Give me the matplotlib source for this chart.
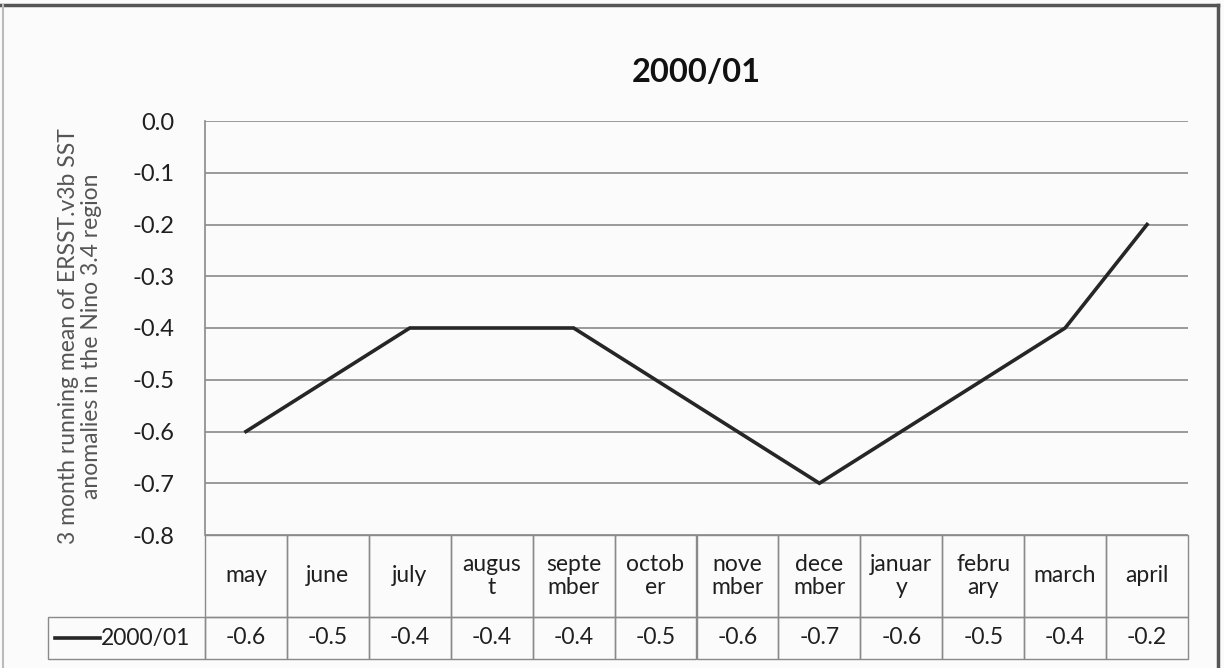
import matplotlib
matplotlib.use("Agg")
import matplotlib.pyplot as plt
from matplotlib.ticker import FixedLocator, FormatStrFormatter
from matplotlib.patches import Rectangle
from matplotlib.lines import Line2D
from matplotlib.transforms import blended_transform_factory

# ---- data ----
categories = ["may", "june", "july", "august", "september", "october",
              "november", "december", "january", "february", "march", "april"]
cell_labels = ["may", "june", "july", "augus\nt", "septe\nmber", "octob\ner",
               "nove\nmber", "dece\nmber", "januar\ny", "febru\nary", "march", "april"]
series_name = "2000/01"
values = [-0.6, -0.5, -0.4, -0.4, -0.4, -0.5, -0.6, -0.7, -0.6, -0.5, -0.4, -0.2]
yticks = [0.0, -0.1, -0.2, -0.3, -0.4, -0.5, -0.6, -0.7, -0.8]
title = "2000/01"
ylabel = "3 month running mean of ERSST.v3b SST\nanomalies in the Nino 3.4 region"

plt.rcParams['font.family'] = ['Lato', 'DejaVu Sans']

W, H = 1224, 668
fig = plt.figure(figsize=(W / 100, H / 100), dpi=100)
fig.patch.set_facecolor('#fbfbfb')

ax_l, ax_r, ax_t, ax_b = 205, 1188, 121, 535
ax = fig.add_axes([ax_l / W, 1 - ax_b / H, (ax_r - ax_l) / W, (ax_b - ax_t) / H])
ax.set_facecolor('none')

LINE_C = '#262626'
GRID_C = '#8a8a8a'
TXT_C = '#1f1f1f'

x = list(range(len(categories)))
ax.plot(x, values, color=LINE_C, lw=2.6, solid_joinstyle='miter', zorder=3)
ax.set_xlim(-0.5, len(categories) - 0.5)
ax.set_ylim(-0.8, 0.0)

ax.yaxis.set_major_locator(FixedLocator(yticks))
ax.yaxis.set_major_formatter(FormatStrFormatter('%.1f'))
ax.grid(axis='y', color=GRID_C, lw=1.2)
ax.set_axisbelow(True)
ax.tick_params(axis='y', length=0, pad=22, labelsize=17, labelcolor=TXT_C)
ax.tick_params(axis='x', length=0, labelbottom=False)
for s in ['top', 'right', 'bottom']:
    ax.spines[s].set_visible(False)
ax.spines['left'].set_color(GRID_C)
ax.spines['left'].set_linewidth(1.2)

ax.set_title(title, fontsize=23.5, fontweight='bold', color='#111111', pad=28)

fig.text(80 / W, 1 - 336 / H, ylabel, rotation=90, ha='center', va='center',
         fontsize=16.5, color='#555555', linespacing=1.12)

# ---- data table (x in data units, y in axes fraction) ----
axh = ax_b - ax_t
axw = ax_r - ax_l
trans = blended_transform_factory(ax.transData, ax.transAxes)
y_hdr_top = 0.0
y_hdr_bot = -(617 - ax_b) / axh
y_val_bot = -(659 - ax_b) / axh
TBL_FS = 16.5

for i, (lab, v) in enumerate(zip(cell_labels, values)):
    ax.add_patch(Rectangle((i - 0.5, y_hdr_bot), 1, y_hdr_top - y_hdr_bot,
                           transform=trans, fill=False, ec=GRID_C, lw=1.0, clip_on=False))
    ax.add_patch(Rectangle((i - 0.5, y_val_bot), 1, y_hdr_bot - y_val_bot,
                           transform=trans, fill=False, ec=GRID_C, lw=1.0, clip_on=False))
    ax.text(i, (y_hdr_top + y_hdr_bot) / 2, lab, transform=trans, ha='center', va='center',
            fontsize=TBL_FS, color=TXT_C, linespacing=1.15, clip_on=False)
    ax.text(i, (y_hdr_bot + y_val_bot) / 2, f"{v:.1f}", transform=trans, ha='center',
            va='center', fontsize=TBL_FS, color=TXT_C, clip_on=False)

# row label cell with legend key (axes fraction coords)
row_left = (48 - ax_l) / axw
ax.add_patch(Rectangle((row_left, y_val_bot), -row_left, y_hdr_bot - y_val_bot,
                       transform=ax.transAxes, fill=False, ec=GRID_C, lw=1.0, clip_on=False))
ymid = (y_hdr_bot + y_val_bot) / 2
ax.text((190 - ax_l) / axw, ymid, series_name, transform=ax.transAxes, ha='right',
        va='center', fontsize=TBL_FS, color=TXT_C, clip_on=False)
ax.add_line(Line2D([(55 - ax_l) / axw, (100 - ax_l) / axw], [ymid, ymid],
                   transform=ax.transAxes, color=LINE_C, lw=2.6, clip_on=False))

# outer frame
fig.add_artist(Line2D([0, 1218 / W], [1 - 5 / H, 1 - 5 / H], transform=fig.transFigure,
                      color='#555555', lw=2.5))
fig.add_artist(Line2D([1218 / W, 1218 / W], [0, 1 - 5 / H], transform=fig.transFigure,
                      color='#555555', lw=2.5))
fig.add_artist(Line2D([3 / W, 3 / W], [0, 1 - 5 / H], transform=fig.transFigure,
                      color='#bbbbbb', lw=1.5))

fig.savefig('out.png', dpi=100, facecolor=fig.get_facecolor())
